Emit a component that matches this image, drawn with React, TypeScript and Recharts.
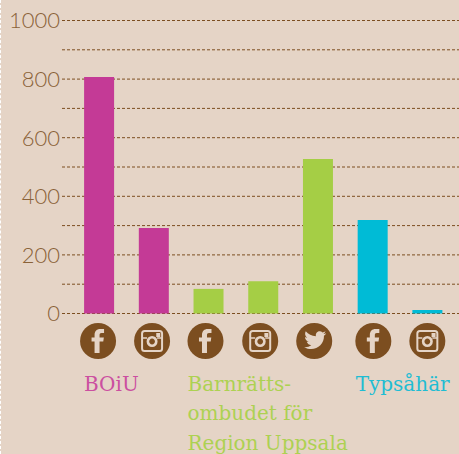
import React from 'react';
import { BarChart, Bar, Cell, XAxis, YAxis, CartesianGrid } from 'recharts';

const networks = ['facebook', 'instagram', 'facebook', 'instagram', 'twitter', 'facebook', 'instagram'];
const reach = [807, 292, 84, 110, 527, 319, 12];
const owners = ['BOiU', 'BOiU', 'Barnrätt', 'Barnrätt', 'Barnrätt', 'Typsåhär', 'Typsåhär'];
const yTicks = [0, 100, 200, 300, 400, 500, 600, 700, 800, 900, 1000];

const ownerColors: Record<string, string> = {
  BOiU: '#C43A96',
  'Barnrätt': '#A5CE45',
  'Typsåhär': '#00BBD6',
};

const groupLabels: Record<number, { color: string; lines: string[]; dx: number }> = {
  0: { color: '#CB4FA0', lines: ['BOiU'], dx: -15 },
  2: { color: '#ADD152', lines: ['Barnrätts-', 'ombudet för', 'Region Uppsala'], dx: -21 },
  5: { color: '#1FBDD3', lines: ['Typsåhär'], dx: -17 },
};

// the icons in the original don't sit exactly under the bars
const iconShift = [-1.4, -2.1, -3.4, -3.4, -4.1, 0.3, -0.4];

const data = networks.map((network, i) => ({
  id: i,
  network,
  owner: owners[i],
  value: reach[i],
}));

const BROWN = '#7C4E20';
const BG = '#E5D4C6';

const NetworkIcon = ({ type }: { type: string }) => {
  if (type === 'facebook') {
    return (
      <path
        d="M-3.5 12 V0.5 H-6.5 V-3.5 H-3.5 V-6 C-3.5 -10 -1 -12 2 -12 H6 V-8 H3.5 C2 -8 1.5 -7.2 1.5 -6 V-3.5 H5.8 L5.2 0.5 H1.5 V12 Z"
        fill={BG}
      />
    );
  }
  if (type === 'instagram') {
    return (
      <g>
        <rect x={-10} y={-10} width={20} height={20} rx={2.5} fill="none" stroke={BG} strokeWidth={2} />
        <circle cx={0} cy={0.5} r={4.2} fill="none" stroke={BG} strokeWidth={2.6} />
        <path d="M-10 -3 H-5 M5 -3 H10" stroke={BG} strokeWidth={1.6} />
        <rect x={4.2} y={-8} width={4} height={4} fill={BG} />
      </g>
    );
  }
  return (
    <g transform="scale(0.92)">
      <path
        d="M13 -8.5 C12 -8 11 -7.7 10 -7.6 C11.1 -8.3 11.9 -9.3 12.3 -10.5 C11.3 -9.9 10.2 -9.5 9 -9.2 C6.5 -12 1 -10.2 1.8 -5.2 C-2.6 -5.4 -6.5 -7.5 -9.2 -10.7 C-10.6 -8.3 -9.9 -5.2 -7.6 -3.7 C-8.5 -3.7 -9.3 -4 -10 -4.4 C-10 -1.8 -8.2 0.3 -5.8 0.8 C-6.5 1 -7.3 1 -8.1 0.9 C-7.4 3 -5.5 4.5 -3.2 4.6 C-5.4 6.3 -8.2 7 -11 6.7 C-0.5 12.5 11 5.5 10.6 -5.6 C11.6 -6.4 12.4 -7.4 13 -8.5 Z"
        fill={BG}
      />
    </g>
  );
};

const IconTick = (props: any) => {
  const { x, y, index } = props;
  const net = networks[index];
  const group = groupLabels[index];
  return (
    <g>
      <g transform={`translate(${x + iconShift[index]},341)`}>
        <circle r={18} fill={BROWN} />
        <NetworkIcon type={net} />
      </g>
      {group &&
        group.lines.map((line, i) => (
          <text
            key={line}
            x={x + group.dx - 0.4}
            y={y + 69 + i * 29.5}
            fill={group.color}
            fontFamily="'DejaVu Serif', serif"
            fontSize={20}
            fontWeight={400}
          >
            {line}
          </text>
        ))}
    </g>
  );
};

const App = () => {
  return (
    <div
      style={{
        position: 'absolute',
        left: 0,
        top: 0,
        width: 459,
        height: 454,
        background: BG,
        overflow: 'hidden',
      }}
    >
      <BarChart
        width={459}
        height={454}
        data={data}
        margin={{ top: 20.5, right: 0, bottom: 0, left: 0 }}
        barCategoryGap={12}
      >
        <CartesianGrid
          vertical={false}
          stroke={BROWN}
          strokeDasharray="3 2"
          strokeWidth={1}
        />
        <XAxis
          dataKey="id"
          height={140.5}
          axisLine={false}
          tickLine={false}
          interval={0}
          padding={{ left: 10.1, right: 3.9 }}
          tick={<IconTick />}
        />
        <YAxis
          width={62}
          domain={[0, 1000]}
          ticks={yTicks}
          interval={0}
          axisLine={false}
          tickLine={false}
          tickSize={0}
          tickMargin={2}
          tickFormatter={(v: number) => (v % 200 === 0 ? String(v) : '')}
          tick={{
            fill: '#8A6238',
            fontSize: 22,
            fontFamily: 'Lato, sans-serif',
            fontWeight: 300,
          }}
        />
        <Bar dataKey="value" barSize={30} isAnimationActive={false}>
          {data.map((d) => (
            <Cell key={d.id} fill={ownerColors[d.owner]} />
          ))}
        </Bar>
      </BarChart>
      <div
        style={{
          position: 'absolute',
          left: 0,
          top: 0,
          bottom: 0,
          width: 0,
          borderLeft: '1px dashed #fff',
        }}
      />
    </div>
  );
};

export default App;
